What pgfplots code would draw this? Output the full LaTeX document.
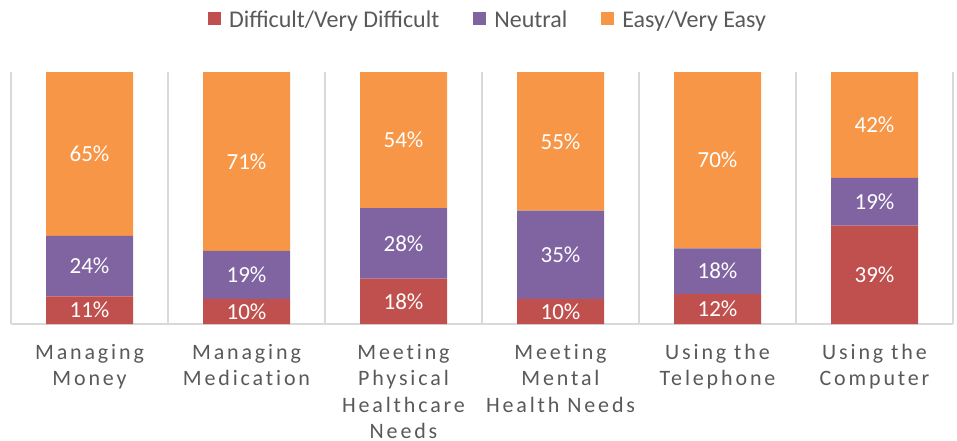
\documentclass[border=0pt]{standalone}
\usepackage{pgfplots}
\pgfplotsset{compat=1.18}
\usepackage{pgfplotstable}
\usepackage{fontspec}
\setmainfont{Carlito}
\newfontfamily\spacedfont[LetterSpace=13, Ligatures=NoCommon]{Carlito}
\definecolor{cred}{HTML}{C0504D}
\definecolor{cpurple}{HTML}{8064A2}
\definecolor{corange}{HTML}{F79646}
\definecolor{ctext}{HTML}{595959}
\definecolor{cgrid}{HTML}{D9D9D9}
\pgfplotstableread{
x diff neutral easy
0 11 24 65
1 10 19 71
2 18 28 54
3 10 35 55
4 12 18 70
5 39 19 42
}\data
\begin{document}
\begin{tikzpicture}[x=1pt,y=1pt]
\begin{axis}[
  at={(0,0)}, anchor=south west,
  scale only axis, width=942pt, height=252pt,
  xmin=-0.5, xmax=5.5, ymin=0, ymax=100,
  ybar stacked, bar width=87pt,
  axis y line=none,
  axis x line*=bottom,
  x axis line style={draw=cgrid, line width=1.5pt, -},
  xtick=data,
  xticklabels={{Managing\\Money},{Managing\\Medication},{Meeting\\Physical\\Healthcare\\Needs},{Meeting\\Mental\\Health Needs},{Using the\\Telephone},{Using the\\Computer}},
  xticklabel style={align=center, anchor=north, inner sep=0pt, yshift=-20pt, text=ctext, font=\spacedfont\fontsize{22}{26.5}\selectfont},
  major tick length=0pt,
  minor xtick={-0.5,0.5,...,5.5},
  minor tick length=0pt,
  xminorgrids=true,
  minor grid style={draw=cgrid, line width=1.5pt},
  visualization depends on={rawy \as \myval},
  nodes near coords={\pgfmathprintnumber[fixed,precision=0,assume math mode=true]{\myval}\%},
  every node near coord/.append style={font=\fontsize{23}{23}\selectfont, text=white, anchor=center},
  legend columns=3,
  legend style={at={(0.5,1)}, anchor=center, xshift=6pt, yshift=52pt, draw=none, fill=none, font=\fontsize{24}{24}\selectfont, text=ctext,
    /tikz/every even column/.append style={column sep=32pt},
    /tikz/every odd column/.append style={column sep=6pt}},
  legend cell align=left,
  legend image code/.code={\fill[#1,draw=none] (0pt,-5pt) rectangle (13pt,8pt);},
]
\addplot[fill=cred, draw=none] table[x=x, y=diff] {\data};
\addplot[fill=cpurple, draw=none] table[x=x, y=neutral] {\data};
\addplot[fill=corange, draw=none] table[x=x, y=easy] {\data};
\legend{Difficult/Very Difficult, Neutral, Easy/Very Easy}
\end{axis}
\pgfresetboundingbox
\path (-11pt,-116pt) rectangle (946pt,324pt);
\end{tikzpicture}
\end{document}
